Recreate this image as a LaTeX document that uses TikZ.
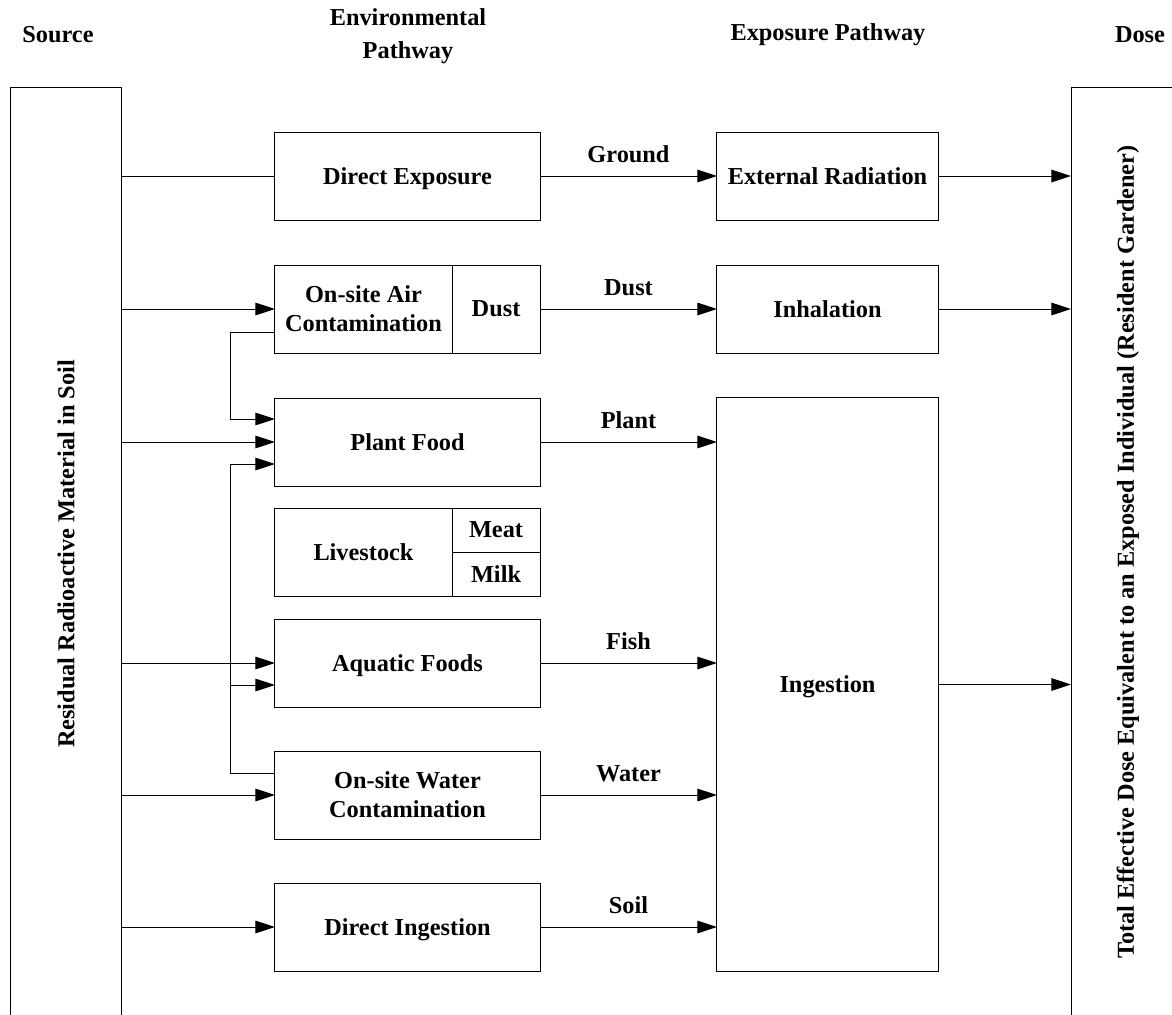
\documentclass[tikz,border=0pt]{standalone}
\usepackage{fontspec}
\setmainfont{Liberation Serif}
\usetikzlibrary{arrows.meta,positioning}

\begin{document}
\begin{tikzpicture}[x=0.025cm, y=-0.025cm, line width=0.7pt,
    every node/.style={font=\fontsize{17.3pt}{20.6pt}\selectfont\bfseries},
    box/.style={draw, outer sep=0pt, inner sep=0pt, align=center, text depth=0pt, minimum width=6.625cm, minimum height=2.2cm},
    halfbox/.style={box, minimum width=4.425cm},
    sidebox/.style={box, minimum width=2.2cm},
    arr/.style={-{Triangle[length=14pt,width=9pt]}},
    lbl/.style={above=7pt, inner sep=2pt}]
    \useasboundingbox (0,0) rectangle (1172,1014);

    % column heads
    \node (hsrc) at (58,35) {Source};
    \node[align=center] (henv) at (408,36) {Environmental\\[3pt]Pathway};
    \node (hexp) at (828,35) {Exposure Pathway};
    \node (hdose) at (1140,35) {Dose};

    % source and dose, running off the page
    \node[draw, outer sep=0pt, minimum width=2.75cm, minimum height=23.55cm] (src) at (66,559) {};
    \node[rotate=90] (srct) at (66,554) {Residual Radioactive Material in Soil};
    \node[draw, outer sep=0pt, minimum width=3.225cm, minimum height=23.55cm] (dose) at (1135.5,559) {};
    \node[rotate=90] (doset) at (1128,552) {Total Effective Dose Equivalent to an Exposed Individual (Resident Gardener)};

    % environmental pathways
    \node[box] (de) at (407.5,176) {Direct Exposure};
    \node[halfbox] (air) at (363.5,309) {On-site Air\\Contamination};
    \node[sidebox, right=0pt of air] (dust) {Dust};
    \node[box] (plant) at (407.5,442) {Plant Food};
    \node[halfbox] (live) at (363.5,552) {Livestock};
    \node[sidebox, minimum height=1.1cm, anchor=north west] (meat) at (live.north east) {Meat};
    \node[sidebox, minimum height=1.1cm, below=0pt of meat] (milk) {Milk};
    \node[box] (aqua) at (407.5,663) {Aquatic Foods};
    \node[box] (water) at (407.5,795) {On-site Water\\Contamination};
    \node[box] (ding) at (407.5,927) {Direct Ingestion};

    % exposure pathways
    \node[box, minimum width=5.525cm] (ext) at (827.5,176) {External Radiation};
    \node[box, minimum width=5.525cm] (inh) at (827.5,309) {Inhalation};
    \node[box, minimum width=5.525cm, minimum height=14.325cm] (ing) at (827.5,684.5) {Ingestion};

    % from the source
    \draw (src.east |- de.west) -- (de.west);
    \foreach \n in {air,plant,aqua,water,ding}
        \draw[arr] (src.east |- \n.west) -- (\n.west);

    % air and water feed the foods
    \draw[arr] ([yshift=-0.575cm]air.west) -- ++(-44,0) |- ([yshift=0.575cm]plant.west);
    \draw[arr] ([yshift=0.55cm]water.west) -- ++(-44,0) |- ([yshift=-0.55cm]plant.west);
    \coordinate (jn) at ([xshift=-1.1cm,yshift=-0.55cm]aqua.west);
    \draw[arr] (jn) -- (jn -| aqua.west);

    % to exposure pathways
    \draw[arr] (de) -- node[lbl] {Ground} (ext);
    \draw[arr] (dust) -- node[lbl] {Dust} (inh);
    \foreach \n/\lab in {plant/Plant, aqua/Fish, water/Water, ding/Soil}
        \draw[arr] (\n.east) -- node[lbl] {\lab} (\n.east -| ing.west);

    % to dose
    \foreach \n in {ext,inh,ing}
        \draw[arr] (\n.east) -- (\n.east -| dose.west);
\end{tikzpicture}
\end{document}
